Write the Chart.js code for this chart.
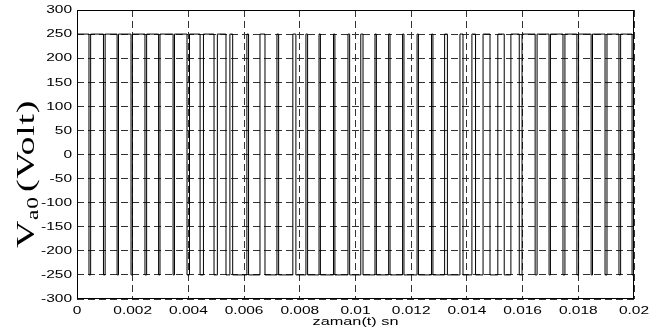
<!DOCTYPE html>
<html>
<head>
<meta charset="utf-8">
<script src="https://cdn.jsdelivr.net/npm/chart.js@4.4.1/dist/chart.umd.min.js"></script>
<style>
  html, body { margin: 0; padding: 0; background: #fff; }
  #wrap { width: 667px; height: 330px; }
</style>
</head>
<body>
<div id="wrap"><canvas id="pwmChart" width="667" height="330"></canvas></div>
<script>
// Va0 switching instants (s)
const times = [
  0,
  0.00043, 0.00049, 0.00095, 0.00101, 0.00144, 0.00149, 0.00194, 0.00199,
  0.00244, 0.00250, 0.00293, 0.00298, 0.00345, 0.00350, 0.00395, 0.00404,
  0.00442, 0.00454, 0.00492, 0.00504, 0.00535,
  0.00549, 0.00559, 0.00610, 0.00616, 0.00657, 0.00675, 0.00718, 0.00724,
  0.00775, 0.00786, 0.00822, 0.00828, 0.00869, 0.00874, 0.00921, 0.00926,
  0.00973, 0.00979, 0.01019, 0.01027, 0.01070, 0.01075, 0.01119, 0.01124,
  0.01169, 0.01174, 0.01221, 0.01226, 0.01273, 0.01278, 0.01320, 0.01330,
  0.01375, 0.01386, 0.01418, 0.01431, 0.01458,
  0.01483, 0.01511, 0.01534, 0.01558, 0.01588, 0.01598, 0.01645, 0.01652,
  0.01695, 0.01700, 0.01745, 0.01752, 0.01795, 0.01801, 0.01846, 0.01851,
  0.01896, 0.01903, 0.01946, 0.01952, 0.01993, 0.01998,
  0.02
];

// voltage level after each switching instant (V)
const levels = [
  250,
  -250, 250, -250, 250, -250, 250, -250, 250,
  -250, 250, -250, 250, -250, 250, -250, 250,
  -250, 250, -250, 250, -250,
  250, -250, 250, -250, 250, -250, 250, -250,
  250, -250, 250, -250, 250, -250, 250, -250,
  250, -250, 250, -250, 250, -250, 250, -250,
  250, -250, 250, -250, 250, -250, 250, -250,
  250, -250, 250, -250, 250,
  -250, 250, -250, 250, -250, 250, -250, 250,
  -250, 250, -250, 250, -250, 250, -250, 250,
  -250, 250, -250, 250, -250, 250,
  250
];

const xTicks = [0, 0.002, 0.004, 0.006, 0.008, 0.01, 0.012, 0.014, 0.016, 0.018, 0.02];
const xLabels = ["0", "0.002", "0.004", "0.006", "0.008", "0.01", "0.012", "0.014", "0.016", "0.018", "0.02"];
const yTicks = [-300, -250, -200, -150, -100, -50, 0, 50, 100, 150, 200, 250, 300];
const yLabels = ["-300", "-250", "-200", "-150", "-100", "-50", "0", "50", "100", "150", "200", "250", "300"];

const TICK_FONT = '10px "Liberation Sans", Arial, sans-serif';
const STRETCH = 1.55;

// text pulled wide like the matlab export
function wideText(ctx, txt, px, py, align) {
    ctx.save();
    ctx.translate(px, py);
    ctx.scale(STRETCH, 1);
    ctx.textAlign = align;
    ctx.fillText(txt, 0, 0);
    ctx.restore();
}

// box, tick labels and axis titles
const axisDecor = {
    id: "axisDecor",
    afterDraw(chart) {
        const { ctx, chartArea: a, scales: { x, y } } = chart;
        ctx.save();
        ctx.strokeStyle = "#000";
        ctx.lineWidth = 1;
        ctx.strokeRect(Math.round(a.left) + 0.5, Math.round(a.top) + 0.5,
            Math.round(a.right - a.left) - 1, Math.round(a.bottom - a.top) - 1);

        ctx.fillStyle = "#000";
        ctx.font = TICK_FONT;
        ctx.textBaseline = "alphabetic";
        xTicks.forEach((v, i) => {
            wideText(ctx, xLabels[i], x.getPixelForValue(v), 313.5, "center");
        });
        ctx.textBaseline = "middle";
        yTicks.forEach((v, i) => {
            wideText(ctx, yLabels[i], 72, y.getPixelForValue(v) + 0.5, "right");
        });

        // x title
        ctx.font = '10.5px "Liberation Sans", Arial, sans-serif';
        ctx.textBaseline = "alphabetic";
        wideText(ctx, "zaman(t) sn", (a.left + a.right) / 2, 325, "center");

        // y title: V with subscript a0, then (Volt)
        const big = '26px "Liberation Serif", "Times New Roman", serif';
        const small = '16px "Liberation Serif", "Times New Roman", serif';
        ctx.letterSpacing = "0.5px";
        ctx.font = big;
        const wV = ctx.measureText("V").width;
        const wRest = ctx.measureText("(Volt)").width;
        ctx.font = small;
        const wSub = ctx.measureText("a0").width;
        const total = wV + wSub + 3 + wRest;
        ctx.translate(34, 248);
        ctx.rotate(-Math.PI / 2);
        ctx.scale(148 / total, 1);
        ctx.textAlign = "left";
        ctx.font = big;
        ctx.fillText("V", 0, 0);
        ctx.font = small;
        ctx.fillText("a0", wV, 4);
        ctx.font = big;
        ctx.fillText("(Volt)", wV + wSub + 3, 0);
        ctx.restore();
    }
};

new Chart(document.getElementById("pwmChart"), {
    type: "line",
    data: {
        datasets: [{
            data: times.map((t, i) => ({ x: t, y: levels[i] })),
            borderColor: "#000",
            borderWidth: 1,
            pointRadius: 0,
            stepped: "before",
            fill: false
        }]
    },
    options: {
        responsive: false,
        animation: false,
        devicePixelRatio: 1,
        layout: { padding: { top: 10, right: 33, left: 0, bottom: 0 } },
        plugins: {
            legend: { display: false },
            tooltip: { enabled: false }
        },
        scales: {
            x: {
                type: "linear",
                min: 0,
                max: 0.02,
                afterBuildTicks: s => { s.ticks = xTicks.map(v => ({ value: v })); },
                afterFit: s => { s.height = 31; },
                ticks: { display: false },
                grid: { color: "#333", lineWidth: 1, drawTicks: false },
                border: { display: false, dash: [7, 4] }
            },
            y: {
                type: "linear",
                min: -300,
                max: 300,
                afterBuildTicks: s => { s.ticks = yTicks.map(v => ({ value: v })); },
                afterFit: s => { s.width = 77; },
                ticks: { display: false },
                grid: { color: "#333", lineWidth: 1, drawTicks: false },
                border: { display: false, dash: [7, 4] }
            }
        }
    },
    plugins: [axisDecor]
});
</script>
</body>
</html>
